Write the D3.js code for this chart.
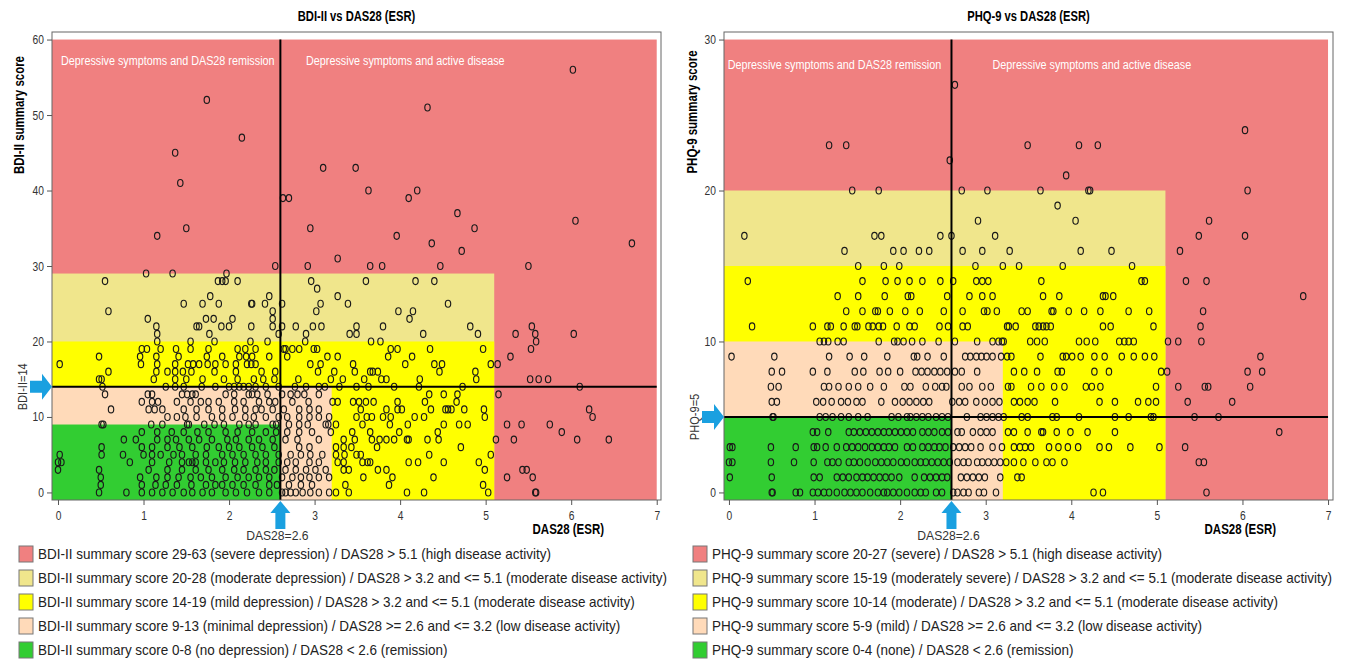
<!DOCTYPE html>
<html>
<head>
<meta charset="utf-8">
<script src="https://cdn.jsdelivr.net/npm/d3@7"></script>
<style>
  body { margin: 0; background: #fff; }
  svg text { font-family: "Liberation Sans", Arial, sans-serif; }
</style>
</head>
<body>
<div id="chart"></div>
<script>
// ---- data ----
const dasTicks = [0, 1, 2, 3, 4, 5, 6, 7];
const bdiTicks = [0, 10, 20, 30, 40, 50, 60];
const phqTicks = [0, 10, 20, 30];

// band upper edges (score) and right edges (DAS28), red -> green
const bdiBandTop = [60, 29, 20, 14, 9];
const phqBandTop = [30, 20, 15, 10, 5];
const bandDas = [7, 5.1, 5.1, 3.2, 2.6];
const bandColors = ["#F08080", "#F0E68C", "#FFFF00", "#FFDAB9", "#32CD32"];

const bdiCut = 14, phqCut = 5, dasCut = 2.6;

const bdiLegend = [
  "BDI-II summary score 29-63 (severe depression) / DAS28 > 5.1 (high disease activity)",
  "BDI-II summary score 20-28 (moderate depression) / DAS28 > 3.2 and <= 5.1 (moderate disease activity)",
  "BDI-II summary score 14-19 (mild depression) / DAS28 > 3.2 and <= 5.1 (moderate disease activity)",
  "BDI-II summary score 9-13 (minimal depression) / DAS28 >= 2.6 and <= 3.2 (low disease activity)",
  "BDI-II summary score 0-8 (no depression) / DAS28 < 2.6 (remission)"
];
const phqLegend = [
  "PHQ-9 summary score 20-27 (severe) / DAS28 > 5.1 (high disease activity)",
  "PHQ-9 summary score 15-19 (moderately severe) / DAS28 > 3.2 and <= 5.1 (moderate disease activity)",
  "PHQ-9 summary score 10-14 (moderate) / DAS28 > 3.2 and <= 5.1 (moderate disease activity)",
  "PHQ-9 summary score 5-9 (mild) / DAS28 >= 2.6 and <= 3.2 (low disease activity)",
  "PHQ-9 summary score 0-4 (none) / DAS28 < 2.6 (remission)"
];

// patients: [score, [DAS28 values...]]
const bdiPoints = [
  [56, [6.02]],
  [52, [1.74]],
  [51, [4.32]],
  [47, [2.15]],
  [45, [1.37]],
  [43, [3.10, 3.48]],
  [41, [1.43]],
  [40, [3.63, 4.20]],
  [39, [2.63, 2.70, 4.10]],
  [37, [4.67]],
  [36, [6.05]],
  [35, [1.50, 2.95, 4.87]],
  [34, [1.16, 3.96]],
  [33, [4.37, 6.71]],
  [32, [4.72]],
  [31, [3.27]],
  [30, [2.54, 2.92, 3.65, 3.79, 4.47, 5.50]],
  [29, [1.03, 1.34, 1.97]],
  [28, [0.55, 1.87, 1.92, 1.96, 2.10, 2.96, 3.60, 4.18, 4.40]],
  [27, [3.03]],
  [26, [1.78, 2.47, 3.27]],
  [25, [1.47, 1.69, 1.88, 2.26, 2.27, 2.42, 2.62, 3.07, 3.39, 4.56]],
  [24, [0.59, 2.51, 3.02, 3.98, 4.15]],
  [23, [1.05, 1.73, 1.82, 2.04, 2.51, 4.11]],
  [22, [1.15, 1.62, 1.65, 1.91, 2.00, 2.26, 2.51, 2.62, 2.78, 2.98, 3.08, 3.49, 3.80, 4.82, 5.54]],
  [21, [1.16, 1.77, 2.58, 2.90, 3.41, 3.49, 4.27, 4.91, 5.35, 5.58, 6.03]],
  [20, [1.16, 1.55, 1.83, 2.25, 2.45, 2.89, 3.66, 3.77, 5.59]],
  [19, [0.98, 1.04, 1.20, 1.38, 1.55, 1.76, 2.10, 2.19, 2.31, 2.64, 2.66, 2.74, 2.82, 2.99, 3.03, 3.89, 3.97, 4.35, 4.97, 5.53]],
  [18, [0.48, 0.96, 1.15, 1.41, 1.74, 1.92, 2.12, 2.20, 2.27, 2.47, 2.68, 3.15, 3.27, 3.86, 4.14, 5.29]],
  [17, [0.02, 0.97, 1.16, 1.37, 1.52, 1.58, 1.65, 1.75, 1.84, 1.96, 2.08, 2.21, 2.26, 2.31, 2.95, 3.07, 3.45, 4.06, 4.40, 4.49, 5.06, 5.14]],
  [16, [0.59, 1.15, 1.28, 1.37, 1.46, 1.56, 1.83, 2.08, 2.38, 2.54, 3.04, 3.23, 3.47, 3.65, 3.68, 3.74, 4.46, 4.88]],
  [15, [0.48, 0.51, 1.12, 1.37, 1.50, 1.69, 1.94, 2.10, 2.29, 2.40, 2.53, 2.81, 3.19, 3.33, 3.58, 3.78, 3.84, 4.23, 4.89, 5.52, 5.62, 5.73]],
  [14, [0.52, 1.26, 1.37, 1.47, 1.68, 1.84, 2.00, 2.06, 2.12, 2.17, 2.23, 2.31, 2.43, 2.58, 2.77, 2.90, 3.05, 3.12, 3.29, 3.49, 3.63, 3.93, 4.22, 4.73, 6.10]],
  [13, [0.55, 1.05, 1.10, 1.45, 1.51, 1.57, 1.61, 1.96, 2.06, 2.23, 2.27, 2.33, 2.45, 2.62, 2.72, 2.80, 2.88, 3.05, 4.34, 4.51, 4.67, 5.15]],
  [12, [0.98, 1.10, 1.17, 1.39, 1.55, 1.67, 1.76, 1.88, 2.06, 2.17, 2.35, 2.47, 2.54, 2.74, 2.93, 3.21, 3.27, 3.45, 3.52, 3.60, 3.69, 3.97, 4.29, 4.66]],
  [11, [0.62, 1.06, 1.13, 1.22, 1.47, 1.62, 1.76, 1.92, 2.07, 2.19, 2.31, 2.38, 2.51, 2.64, 2.82, 2.94, 3.05, 3.54, 3.84, 3.97, 4.02, 4.36, 4.53, 4.56, 4.60, 4.75, 4.98, 6.21]],
  [10, [1.28, 1.39, 1.49, 1.62, 1.80, 1.92, 2.04, 2.19, 2.29, 2.43, 2.58, 2.68, 2.82, 2.94, 3.05, 3.17, 3.49, 3.61, 3.67, 3.80, 3.89, 4.17, 4.28, 4.99, 6.25]],
  [9, [0.51, 0.53, 1.09, 1.22, 1.51, 1.53, 1.71, 1.83, 1.94, 2.12, 2.23, 2.31, 2.51, 2.55, 2.70, 2.82, 2.92, 3.13, 3.16, 3.25, 3.56, 3.88, 4.09, 4.51, 4.69, 4.79, 5.25, 5.42, 5.75]],
  [8, [0.98, 1.16, 1.33, 1.47, 1.63, 1.76, 1.96, 2.10, 2.27, 2.43, 2.55, 2.68, 2.82, 2.97, 3.19, 3.44, 3.65, 3.99, 4.44, 5.89]],
  [7, [0.77, 0.91, 1.16, 1.28, 1.38, 1.53, 1.65, 1.80, 1.98, 2.08, 2.23, 2.35, 2.51, 2.66, 2.80, 3.05, 3.34, 3.47, 3.67, 3.76, 3.84, 3.93, 4.08, 4.10, 4.32, 4.45, 5.12, 5.33, 6.07, 6.44]],
  [6, [0.51, 0.98, 1.10, 1.28, 1.42, 1.57, 1.74, 1.88, 2.00, 2.12, 2.27, 2.39, 2.53, 2.82, 2.94, 3.25, 3.34, 3.43, 3.73, 4.71]],
  [5, [0.02, 0.51, 0.76, 1.00, 1.10, 1.20, 1.35, 1.45, 1.61, 1.73, 1.92, 2.04, 2.17, 2.31, 2.43, 2.58, 2.72, 2.84, 2.95, 3.09, 3.25, 3.35, 3.49, 3.54, 4.34, 5.06]],
  [4, [0.00, 0.04, 0.84, 1.10, 1.30, 1.45, 1.53, 1.57, 1.61, 1.73, 1.84, 1.94, 2.07, 2.19, 2.33, 2.43, 2.58, 2.68, 2.78, 2.94, 3.05, 3.27, 3.34, 3.56, 3.62, 3.65, 4.10, 4.21, 4.51, 4.92]],
  [3, [0.00, 0.48, 1.06, 1.28, 1.45, 1.61, 1.76, 1.92, 2.06, 2.17, 2.31, 2.43, 2.53, 2.66, 2.78, 2.90, 3.01, 3.13, 3.34, 3.40, 3.74, 3.84, 4.99, 5.43, 5.48]],
  [2, [0.50, 0.96, 1.15, 1.28, 1.41, 1.55, 1.67, 1.80, 1.96, 2.10, 2.23, 2.35, 2.47, 2.62, 2.74, 2.84, 2.94, 3.05, 3.17, 3.57, 3.91, 4.39, 5.25, 5.55]],
  [1, [0.50, 0.98, 1.14, 1.26, 1.39, 1.56, 1.73, 1.84, 1.92, 2.04, 2.17, 2.31, 2.47, 2.56, 2.70, 2.84, 2.97, 3.36, 3.87, 4.97]],
  [0, [0.48, 0.80, 0.98, 1.10, 1.22, 1.34, 1.47, 1.57, 1.69, 1.80, 1.96, 2.08, 2.21, 2.35, 2.47, 2.62, 2.66, 2.72, 2.78, 2.86, 2.95, 3.05, 3.17, 3.25, 3.40, 4.08, 4.28, 5.03, 5.58, 5.59]]
];

const phqPoints = [
  [27, [2.64]],
  [24, [6.03]],
  [23, [1.17, 1.37, 3.49, 4.09, 4.31]],
  [22, [2.58]],
  [21, [3.94]],
  [20, [1.44, 1.75, 2.72, 3.02, 3.64, 4.20, 4.22, 6.06]],
  [19, [3.84]],
  [18, [2.91, 4.05, 5.61]],
  [17, [0.18, 1.70, 1.78, 2.47, 2.60, 3.11, 5.49, 6.03]],
  [16, [1.35, 1.92, 2.04, 2.22, 2.34, 2.73, 2.96, 3.28, 4.11, 4.47, 5.27]],
  [15, [1.51, 1.81, 1.99, 2.88, 3.20, 3.39, 3.90, 4.71]],
  [14, [0.22, 1.56, 1.83, 1.97, 2.11, 2.26, 2.47, 2.62, 2.89, 2.96, 3.03, 3.65, 4.82, 4.86, 5.34, 5.58]],
  [13, [1.27, 1.51, 1.82, 2.09, 2.13, 2.55, 2.81, 2.96, 3.08, 3.67, 3.86, 4.37, 4.40, 4.49, 6.71]],
  [12, [1.37, 1.56, 1.71, 1.74, 1.88, 2.06, 2.23, 2.51, 2.73, 2.98, 3.02, 3.13, 3.42, 3.49, 3.77, 3.79, 3.97, 4.15, 4.34, 4.67, 4.91, 5.54]],
  [11, [0.27, 0.98, 1.15, 1.19, 1.34, 1.47, 1.50, 1.63, 1.68, 1.75, 1.80, 1.96, 2.11, 2.17, 2.46, 2.56, 2.73, 2.79, 3.25, 3.27, 3.35, 3.58, 3.62, 3.67, 3.71, 3.76, 4.37, 4.46, 4.96, 5.51]],
  [10, [1.06, 1.11, 1.16, 1.27, 1.34, 1.75, 1.93, 1.97, 2.04, 2.14, 2.26, 2.45, 2.64, 2.90, 3.08, 3.15, 3.19, 3.21, 3.52, 3.60, 3.69, 4.09, 4.18, 4.28, 4.56, 4.62, 4.67, 4.73, 5.13, 5.25, 5.52]],
  [9, [0.03, 0.53, 1.17, 1.41, 1.58, 1.85, 2.16, 2.20, 2.32, 2.51, 2.76, 2.82, 2.89, 2.95, 3.01, 3.08, 3.18, 3.25, 3.30, 3.64, 3.90, 3.94, 4.01, 4.11, 4.27, 4.39, 4.59, 4.73, 4.86, 4.97, 6.21]],
  [8, [0.50, 0.62, 0.98, 1.15, 1.47, 1.57, 1.76, 1.86, 2.00, 2.18, 2.25, 2.32, 2.40, 2.47, 2.55, 2.64, 2.72, 2.90, 3.33, 3.45, 3.60, 3.84, 3.89, 4.27, 4.44, 5.05, 5.12, 6.06, 6.23]],
  [7, [0.49, 0.58, 1.11, 1.17, 1.28, 1.40, 1.51, 1.65, 1.81, 2.05, 2.12, 2.30, 2.41, 2.49, 2.54, 2.72, 2.81, 2.96, 3.06, 3.26, 3.30, 3.53, 3.65, 3.80, 3.92, 4.17, 4.24, 4.34, 4.99, 5.25, 5.56, 5.60, 6.09]],
  [6, [0.50, 0.56, 1.02, 1.10, 1.20, 1.31, 1.39, 1.49, 1.56, 1.78, 1.94, 2.03, 2.11, 2.19, 2.27, 2.34, 2.61, 2.69, 2.76, 2.89, 2.99, 3.08, 3.16, 3.33, 3.40, 3.49, 3.57, 3.81, 4.33, 4.51, 4.78, 4.90, 4.99, 5.36, 5.88]],
  [5, [0.51, 0.52, 1.06, 1.13, 1.21, 1.31, 1.40, 1.51, 1.62, 1.90, 1.98, 2.08, 2.12, 2.19, 2.26, 2.33, 2.42, 2.49, 2.56, 2.78, 2.94, 3.01, 3.08, 3.15, 3.21, 3.42, 3.49, 3.78, 3.83, 4.09, 4.51, 4.67, 4.93, 4.96, 5.44, 5.72]],
  [4, [0.98, 1.03, 1.16, 1.40, 1.46, 1.53, 1.60, 1.67, 1.74, 1.81, 1.87, 1.94, 2.01, 2.08, 2.15, 2.26, 2.33, 2.40, 2.49, 2.56, 2.67, 2.72, 2.85, 2.94, 3.01, 3.08, 3.26, 3.33, 3.49, 3.65, 3.67, 3.83, 3.99, 4.19, 4.51, 6.43]],
  [3, [0.01, 0.04, 0.49, 0.78, 0.99, 1.03, 1.13, 1.26, 1.37, 1.44, 1.51, 1.59, 1.67, 1.74, 1.81, 1.87, 1.94, 2.08, 2.15, 2.26, 2.33, 2.40, 2.46, 2.53, 2.62, 2.69, 2.76, 2.83, 2.94, 3.08, 3.19, 3.33, 3.40, 3.46, 3.53, 3.74, 3.85, 3.96, 4.08, 4.33, 4.44, 4.69, 5.03, 5.33]],
  [2, [0.00, 0.04, 0.49, 0.76, 0.99, 1.15, 1.21, 1.28, 1.40, 1.46, 1.53, 1.62, 1.71, 1.78, 1.85, 1.92, 2.01, 2.08, 2.17, 2.24, 2.30, 2.37, 2.44, 2.51, 2.58, 2.67, 2.74, 2.80, 2.90, 2.96, 3.03, 3.10, 3.17, 3.24, 3.33, 3.44, 3.58, 3.71, 3.78, 3.92, 5.49, 5.55]],
  [1, [0.01, 0.50, 0.99, 1.06, 1.26, 1.33, 1.40, 1.49, 1.56, 1.62, 1.69, 1.76, 1.83, 1.90, 1.99, 2.17, 2.28, 2.35, 2.42, 2.49, 2.55, 2.71, 2.78, 2.85, 2.92, 2.99, 3.17, 3.37, 3.42]],
  [0, [0.50, 0.51, 0.78, 0.83, 0.98, 1.04, 1.11, 1.17, 1.26, 1.35, 1.42, 1.49, 1.56, 1.65, 1.74, 1.81, 1.85, 1.92, 1.99, 2.08, 2.17, 2.24, 2.30, 2.42, 2.49, 2.62, 2.67, 2.74, 2.80, 2.92, 2.98, 3.12, 4.26, 4.37, 5.58]]
];

// ---- drawing ----
const svg = d3.select("#chart").append("svg")
    .attr("width", 1346)
    .attr("height", 659);

const arrowBlue = "#1AA0E0";

function drawPanel(p) {
    const x = d3.scaleLinear().domain(p.xDom).range([p.left, p.right]);
    const y = d3.scaleLinear().domain(p.yDom).range([p.bottom, p.top]);
    const g = svg.append("g");

    // coloured bands, largest first
    g.selectAll("rect.band")
        .data(p.bandTop.map((t, i) => ({ top: t, right: bandDas[i], color: bandColors[i] })))
        .join("rect")
        .attr("class", "band")
        .attr("x", x(p.xDom[0]))
        .attr("y", d => y(d.top))
        .attr("width", d => x(d.right) - x(p.xDom[0]))
        .attr("height", d => y(p.yDom[0]) - y(d.top))
        .attr("fill", d => d.color);

    // quadrant captions
    g.append("text")
        .attr("x", x(p.capX[0])).attr("y", p.capY)
        .attr("fill", "#fff").style("font-size", "13.5px")
        .attr("data-sq", 0.8)
        .text("Depressive symptoms and DAS28 remission");
    g.append("text")
        .attr("x", x(p.capX[1])).attr("y", p.capY)
        .attr("fill", "#fff").style("font-size", "13.5px")
        .attr("data-sq", 0.8)
        .text("Depressive symptoms and active disease");

    // points
    const pts = p.rows.flatMap(([s, xs]) => xs.map(v => [v, s]));
    g.selectAll("ellipse.pt")
        .data(pts)
        .join("ellipse")
        .attr("class", "pt")
        .attr("cx", d => x(d[0]))
        .attr("cy", d => y(d[1]))
        .attr("rx", 2.7)
        .attr("ry", 3.5)
        .attr("fill", "none")
        .attr("stroke", "#1a1a1a")
        .attr("stroke-width", 1.15);

    // cut-off lines
    g.append("line")
        .attr("x1", x(dasCut)).attr("x2", x(dasCut))
        .attr("y1", y(p.yMax)).attr("y2", y(p.yDom[0]))
        .attr("stroke", "#000").attr("stroke-width", 2);
    g.append("line")
        .attr("x1", x(p.xDom[0])).attr("x2", x(7))
        .attr("y1", y(p.cut)).attr("y2", y(p.cut))
        .attr("stroke", "#000").attr("stroke-width", 2);

    // frame
    g.append("rect")
        .attr("x", p.left).attr("y", p.top)
        .attr("width", p.right - p.left).attr("height", p.bottom - p.top)
        .attr("fill", "none").attr("stroke", "#666").attr("stroke-width", 1);

    // axes
    const ay = g.append("g")
        .attr("transform", `translate(${p.left},0)`)
        .call(d3.axisLeft(y).tickValues(p.yTicks).tickSize(5).tickPadding(3));
    const ax = g.append("g")
        .attr("transform", `translate(0,${p.bottom})`)
        .call(d3.axisBottom(x).tickValues(dasTicks).tickSize(5).tickPadding(6));
    [ax, ay].forEach(a => {
        a.select(".domain").remove();
        a.selectAll(".tick line").attr("stroke", "#555");
        a.selectAll(".tick text")
            .attr("fill", "#333")
            .style("font-family", '"Liberation Sans", Arial, sans-serif')
            .style("font-size", "12.5px");
    });

    // title and axis labels
    g.append("text")
        .attr("x", (p.left + p.right) / 2).attr("y", 21)
        .attr("text-anchor", "middle")
        .style("font-size", "14px").style("font-weight", "bold")
        .attr("data-sq", 0.8)
        .text(p.title);
    g.append("text")
        .attr("transform", `translate(${p.yLabX},${p.yLabY}) rotate(-90)`)
        .attr("text-anchor", "middle")
        .style("font-size", "14px").style("font-weight", "bold")
        .text(p.yLabel);
    g.append("text")
        .attr("x", p.right - 57).attr("y", 534)
        .attr("text-anchor", "end")
        .style("font-size", "14px").style("font-weight", "bold")
        .text("DAS28 (ESR)");

    // cut-off annotations with arrows
    g.append("text")
        .attr("transform", `translate(${p.cutLabX},${y(p.cut)}) rotate(-90)`)
        .attr("text-anchor", "middle")
        .attr("fill", "#333")
        .style("font-size", "13.5px")
        .text(p.cutLabel);
    g.append("text")
        .attr("x", x(dasCut) - 3).attr("y", 540)
        .attr("text-anchor", "middle")
        .attr("fill", "#333")
        .style("font-size", "13.5px")
        .attr("data-sq", 0.9)
        .text("DAS28=2.6");

    const hx = p.left, hy = y(p.cut);
    g.append("path")
        .attr("d", `M${hx},${hy} L${hx - 10},${hy - 13} L${hx - 10},${hy - 6} L${hx - 22},${hy - 6}
                    L${hx - 22},${hy + 6} L${hx - 10},${hy + 6} L${hx - 10},${hy + 13} Z`)
        .attr("fill", arrowBlue);
    const vx = x(dasCut), vy = p.bottom + 1;
    g.append("path")
        .attr("d", `M${vx},${vy} L${vx - 10},${vy + 12} L${vx - 5},${vy + 12} L${vx - 5},${vy + 28}
                    L${vx + 5},${vy + 28} L${vx + 5},${vy + 12} L${vx + 10},${vy + 12} Z`)
        .attr("fill", arrowBlue);

    // legend
    const lg = g.append("g").attr("transform", `translate(${p.legX},546)`);
    const item = lg.selectAll("g.item")
        .data(p.legend)
        .join("g")
        .attr("class", "item")
        .attr("transform", (d, i) => `translate(0,${i * 24})`);
    item.append("rect")
        .attr("x", 0).attr("y", 0)
        .attr("width", 14).attr("height", 16)
        .attr("fill", (d, i) => bandColors[i])
        .attr("stroke", "#777").attr("stroke-width", 1);
    item.append("text")
        .attr("x", 19).attr("y", 13)
        .attr("fill", "#222")
        .style("font-size", "15px")
        .attr("data-sq", 0.9)
        .text(d => d);
}

drawPanel({
    left: 52, right: 661, top: 32, bottom: 500,
    xDom: [-0.07, 7.05], yDom: [-1, 61], yMax: 60,
    bandTop: bdiBandTop, rows: bdiPoints, cut: bdiCut, yTicks: bdiTicks,
    capX: [0.035, 2.9], capY: 65,
    title: "BDI-II vs DAS28 (ESR)", yLabel: "BDI-II summary score", yLabX: 24, yLabY: 115,
    cutLabel: "BDI-II=14", cutLabX: 27,
    legend: bdiLegend, legX: 19
});

drawPanel({
    left: 724, right: 1333, top: 32, bottom: 500,
    xDom: [-0.058, 7.058], yDom: [-0.5, 30.5], yMax: 30,
    bandTop: phqBandTop, rows: phqPoints, cut: phqCut, yTicks: phqTicks,
    capX: [-0.015, 3.08], capY: 69,
    title: "PHQ-9 vs DAS28 (ESR)", yLabel: "PHQ-9 summary score", yLabX: 697, yLabY: 112,
    cutLabel: "PHQ-9=5", cutLabX: 699,
    legend: phqLegend, legX: 693
});

// the source figure uses a condensed face; squeeze Liberation Sans horizontally
// around each text's anchor so it reads like Arial Narrow
svg.selectAll("text").each(function() {
    const sq = +(this.getAttribute("data-sq") || 0.82);
    const tx = +(this.getAttribute("x") || 0), ty = +(this.getAttribute("y") || 0);
    const t = this.getAttribute("transform") || "";
    this.setAttribute("x", 0);
    this.setAttribute("y", 0);
    this.setAttribute("transform", `${t} translate(${tx},${ty}) scale(${sq},1)`);
});
</script>
</body>
</html>
